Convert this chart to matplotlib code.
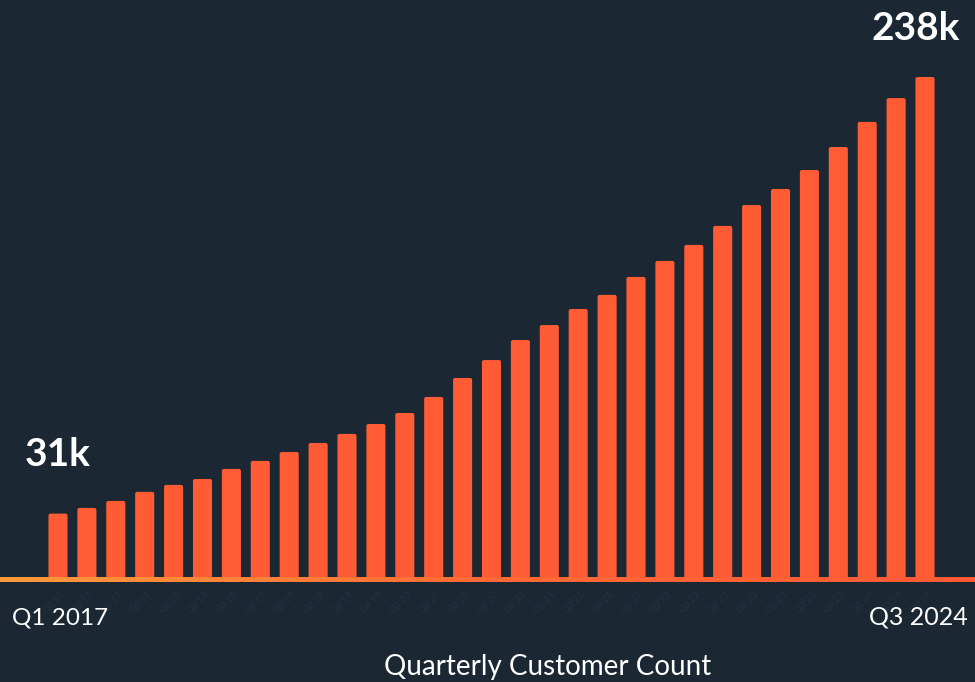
import matplotlib
matplotlib.use("Agg")
import matplotlib.pyplot as plt
import numpy as np
from matplotlib.patches import FancyBboxPatch
from matplotlib.colors import LinearSegmentedColormap

quarters = [f"Q{q}'{y % 100:02d}" for y in range(2017, 2025) for q in range(1, 5)][:31]
customers = [31, 33.7, 37, 41.3, 44.6, 47.4, 52.2, 56, 60.2, 64.5, 68.8, 73.5, 78.7,
             86.3, 95.3, 103.8, 113.3, 120.4, 128, 134.7, 143.2, 150.8, 158.4, 167.4,
             177.3, 184.9, 193.9, 204.8, 216.7, 228, 238]
first_label = "31k"
last_label = "238k"
start_tick = "Q1 2017"
end_tick = "Q3 2024"
x_title = "Quarterly Customer Count"

BG = "#1b2733"
BAR = "#ff5c35"

fig = plt.figure(figsize=(9.75, 6.82), dpi=100, facecolor=BG)
ax = fig.add_axes([0, 1 - 579 / 682, 1, 579 / 682])
ax.set_facecolor(BG)
x = np.arange(len(customers))
ax.set_xlim(-2.007, 31.73)
ax.set_ylim(0, 274.5)
w = 0.66
for xi, v in zip(x, customers):
    p = FancyBboxPatch((xi - w / 2, 0), w, v,
                       boxstyle="round,pad=0,rounding_size=0.07",
                       mutation_aspect=28.9 / 2.109,
                       facecolor=BAR, edgecolor="none")
    ax.add_patch(p)
ax.axis("off")

# baseline gradient
grad = np.linspace(0, 1, 256).reshape(1, -1)
cmap = LinearSegmentedColormap.from_list("g", ["#ff9a3c", "#ff6a35", "#ff5a36"])
bax = fig.add_axes([0, (682 - 582) / 682, 1, 5 / 682])
bax.imshow(grad, aspect="auto", cmap=cmap, extent=[0, 1, 0, 1])
bax.axis("off")

# faint rotated quarter labels
for xi, q in zip(x, quarters):
    ax.text(xi + 0.3, -5, q, rotation=45, ha="right", va="top", fontsize=7,
            color="#243240", family="Lato", clip_on=False)

fs_big = 28
fig.text(58 / 975, 1 - 466 / 682, first_label, ha="center",
         va="baseline", fontsize=fs_big, fontweight="bold", color="white", family="Lato")
fig.text(916 / 975, 1 - 40 / 682, last_label, ha="center", va="baseline",
         fontsize=fs_big, fontweight="bold", color="white", family="Lato")
fig.text(12 / 975, 1 - 624 / 682, start_tick, ha="left", va="baseline",
         fontsize=17.5, color="white", family="Lato")
fig.text(968 / 975, 1 - 624 / 682, end_tick, ha="right", va="baseline",
         fontsize=18, color="white", family="Lato")
fig.text(548 / 975, 1 - 675 / 682, x_title, ha="center", va="baseline",
         fontsize=20, color="white", family="Lato")

fig.savefig("out.png", dpi=100, facecolor=BG)
